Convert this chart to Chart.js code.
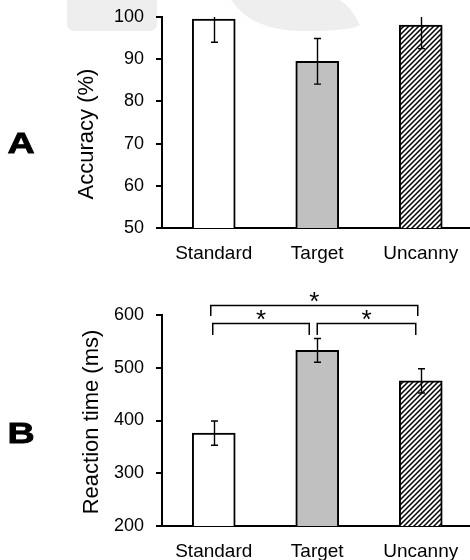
<!DOCTYPE html>
<html>
<head>
<meta charset="utf-8">
<script src="https://cdn.jsdelivr.net/npm/chart.js@4"></script>
<style>
    html, body { margin: 0; padding: 0; background: #fff; overflow: hidden; }
    #wrap { position: relative; width: 470px; height: 560px; overflow: hidden; background: #fff; }
    canvas { position: absolute; left: 0; }
    #chartA { top: 0; }
    #chartB { top: 280px; }
</style>
</head>
<body>
<div id="wrap">
    <canvas id="chartA" width="474" height="268"></canvas>
    <canvas id="chartB" width="474" height="280"></canvas>
</div>
<script>

const conditions = ['Standard', 'Target', 'Uncanny'];

const accuracy = [99.5, 89.5, 98.1];       // %
const accuracyErr = [5.5, 5.4, 5.6];

const reactionTime = [376, 533, 475];      // ms
const reactionTimeErr = [23, 22.5, 23];

const sigPairs = [[0, 2], [0, 1], [1, 2]];
const sigMarks = ['*', '*', '*'];

const FONT = "'Liberation Sans', Arial, sans-serif";

function hatch(ctx) {

    let c = document.createElement('canvas');
    c.width = 5;
    c.height = 5;
    let g = c.getContext('2d');
    g.fillStyle = '#fff';
    g.fillRect(0, 0, 5, 5);
    g.strokeStyle = '#000';
    g.lineWidth = 1.5;
    g.beginPath();
    g.moveTo(-1, 6); g.lineTo(6, -1);
    g.moveTo(-1, 1); g.lineTo(1, -1);
    g.moveTo(4, 6); g.lineTo(6, 4);
    g.stroke();
    return ctx.createPattern(c, 'repeat');

}

// error bars, panel letter, rotated axis title, significance brackets
const decor = {

    id: 'decor',

    beforeDraw(chart, args, opts) {

        if (!opts.watermark) return;
        let ctx = chart.ctx;
        ctx.save();
        ctx.fillStyle = '#eeeeee';
        ctx.beginPath();
        ctx.roundRect(67, -12, 90, 43, 7);
        ctx.fill();
        ctx.beginPath();
        ctx.moveTo(231, 0);
        ctx.quadraticCurveTo(252, 31, 302, 31);
        ctx.quadraticCurveTo(352, 31, 360, 25);
        ctx.quadraticCurveTo(352, 8, 340, 0);
        ctx.closePath();
        ctx.fill();
        ctx.restore();

    },

    afterDatasetsDraw(chart, args, opts) {

        let ctx = chart.ctx;
        let xs = chart.scales.x;
        let ys = chart.scales.y;
        let area = chart.chartArea;
        let ds = chart.data.datasets[0];

        ctx.save();
        ctx.strokeStyle = '#000';
        ctx.lineWidth = 1.4;

        ds.data.forEach((v, i) => {

            let cx = Math.round(xs.getPixelForValue(i)) + 0.5;
            let hi = ys.getPixelForValue(v + ds.errors[i]);
            let lo = ys.getPixelForValue(v - ds.errors[i]);
            ctx.beginPath();
            ctx.moveTo(cx, Math.max(hi, area.top));
            ctx.lineTo(cx, lo);
            if (hi >= area.top) {
                ctx.moveTo(cx - 3.5, hi);
                ctx.lineTo(cx + 3.5, hi);
            }
            ctx.moveTo(cx - 3.5, lo);
            ctx.lineTo(cx + 3.5, lo);
            ctx.stroke();

        });

        ctx.restore();

    },

    afterDraw(chart, args, opts) {

        let ctx = chart.ctx;
        let xs = chart.scales.x;
        let ys = chart.scales.y;

        ctx.save();
        ctx.fillStyle = '#000';
        ctx.strokeStyle = '#000';

        // panel letter
        ctx.save();
        ctx.font = 'bold 29px ' + FONT;
        ctx.textAlign = 'center';
        ctx.textBaseline = 'alphabetic';
        ctx.translate(opts.letterX, opts.letterY);
        ctx.scale(1.3, 1);
        ctx.lineWidth = 0.8;
        ctx.fillText(opts.letter, 0, 0);
        ctx.strokeText(opts.letter, 0, 0);
        ctx.restore();

        // y axis title
        ctx.save();
        ctx.font = '22px ' + FONT;
        ctx.textAlign = 'center';
        ctx.textBaseline = 'middle';
        ctx.translate(opts.titleX, opts.titleY);
        ctx.rotate(-Math.PI / 2);
        ctx.fillText(opts.title, 0, 0);
        ctx.restore();

        // brackets
        if (opts.brackets) {

            let b = opts.brackets;
            let size = 26;
            ctx.lineWidth = 1.5;
            ctx.font = size + 'px ' + FONT;
            ctx.textAlign = 'center';
            ctx.textBaseline = 'alphabetic';

            b.pairs.forEach((p, k) => {

                let x1 = xs.getPixelForValue(p[0]) + b.offsets[k][0];
                let x2 = xs.getPixelForValue(p[1]) + b.offsets[k][1];
                let yt = Math.round(ys.getPixelForValue(b.top[k])) + 0.5;
                let yf = ys.getPixelForValue(b.foot[k]);
                ctx.beginPath();
                ctx.moveTo(x1, yf);
                ctx.lineTo(x1, yt);
                ctx.lineTo(x2, yt);
                ctx.lineTo(x2, yf);
                ctx.stroke();
                ctx.fillText(b.marks[k], (x1 + x2) / 2, yt - 10 + 0.57 * size);

            });

        }

        ctx.restore();

    }

};

function barChart(id, values, errors, yMin, yMax, step, axisHeight, padTop, deco) {

    let canvas = document.getElementById(id);
    let ctx = canvas.getContext('2d');

    return new Chart(ctx, {
        type: 'bar',
        data: {
            labels: conditions,
            datasets: [{
                data: values,
                errors: errors,
                backgroundColor: ['#ffffff', '#c0c0c0', hatch(ctx)],
                borderColor: '#000000',
                borderWidth: 2,
                borderSkipped: 'bottom',
                barThickness: 43
            }]
        },
        options: {
            responsive: false,
            devicePixelRatio: 1,
            animation: false,
            layout: { padding: { top: padTop, right: 1.5, bottom: 0, left: 0 } },
            plugins: {
                legend: { display: false },
                tooltip: { enabled: false },
                decor: deco
            },
            scales: {
                x: {
                    grid: { display: false, drawTicks: false },
                    border: { color: '#000', width: 2 },
                    ticks: { color: '#000', font: { family: FONT, size: 19 }, padding: 14 },
                    afterFit(scale) { scale.height = axisHeight; }
                },
                y: {
                    min: yMin,
                    max: yMax,
                    grid: { drawOnChartArea: false, drawTicks: true, tickLength: 6, color: '#000', lineWidth: 2 },
                    border: { color: '#000', width: 2 },
                    ticks: { stepSize: step, color: '#000', font: { family: FONT, size: 18 }, padding: 12 },
                    afterFit(scale) {
                        scale.width = 162;
                        scale.paddingTop = 0;
                        scale.paddingBottom = 0;
                    }
                }
            }
        },
        plugins: [decor]
    });

}

barChart('chartA', accuracy, accuracyErr, 50, 100, 10, 40, 17, {
    letter: 'A', letterX: 21, letterY: 153,
    title: 'Accuracy (%)', titleX: 87, titleY: 134,
    watermark: true
});

barChart('chartB', reactionTime, reactionTimeErr, 200, 600, 100, 34, 35, {
    letter: 'B', letterX: 21, letterY: 163,
    title: 'Reaction time (ms)', titleX: 92, titleY: 142,
    brackets: {
        pairs: sigPairs,
        marks: sigMarks,
        top: [619, 584, 584],
        foot: [598, 562, 562],
        offsets: [[-3, -3], [-1, -8], [0, -5]]
    }
});

</script>
</body>
</html>
